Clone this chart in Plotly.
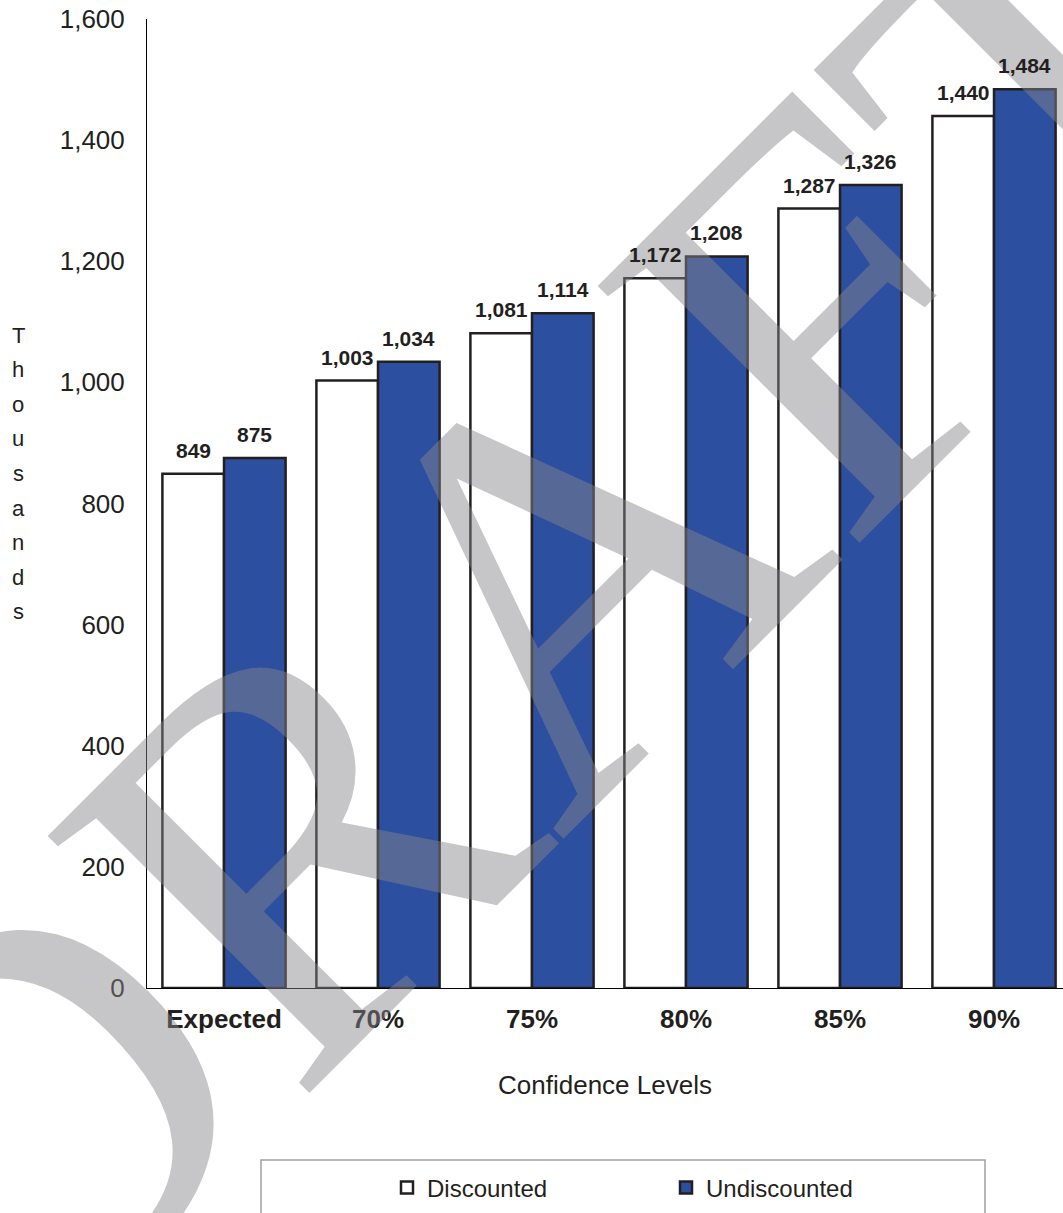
import plotly.graph_objects as go

# Confidence levels and projected costs (thousands)
categories = ["Expected", "70%", "75%", "80%", "85%", "90%"]
discounted = [849, 1003, 1081, 1172, 1287, 1440]
undiscounted = [875, 1034, 1114, 1208, 1326, 1484]
y_ticks = [0, 200, 400, 600, 800, 1000, 1200, 1400, 1600]
y_title = "Thousands"
x_title = "Confidence Levels"
watermark = "DRAFT"

W, H = 1063, 1213
ML, MR, MT, MB = 147, 0, 19, 225
PW, PH = W - ML - MR, H - MT - MB
X_RANGE = [-0.5, 5.448]
BARGAP = 0.2

def px_x(p):
    return (p - ML) / PW

def px_y(p):
    return (H - MB - p) / PH

INK = "#231f20"
BLUE = "#2c4fa0"
SANS = "Liberation Sans, Arial, sans-serif"

fig = go.Figure()
series = [("Discounted", discounted, "white"), ("Undiscounted", undiscounted, BLUE)]
for name, vals, fill in series:
    fig.add_trace(go.Bar(
        name=name, x=categories, y=vals,
        marker=dict(color=fill, line=dict(color=INK, width=2.5)),
    ))

# stacked vertical axis title
for i, ch in enumerate(y_title):
    fig.add_annotation(
        text=ch, xref="paper", yref="paper",
        x=px_x(18), y=px_y(335 + i * 34.6),
        showarrow=False, xanchor="center", yanchor="middle",
        font=dict(family=SANS, size=22, color=INK),
    )

# legend frame
fig.add_shape(
    type="rect", xref="paper", yref="paper",
    x0=px_x(261), x1=px_x(985), y0=px_y(1260), y1=px_y(1160),
    line=dict(color="#a0a0a0", width=1.5), fillcolor="rgba(0,0,0,0)",
    layer="below",
)

# diagonal watermark over the bars
fig.add_annotation(
    text=watermark, xref="paper", yref="paper",
    x=px_x(525), y=px_y(610), showarrow=False,
    xanchor="center", yanchor="middle", textangle=-45,
    font=dict(family="Liberation Serif, Times New Roman, serif", size=560,
              color="rgba(133,134,138,0.47)"),
)

# value labels above each bar, drawn after the watermark so they stay on top
cat_px = PW / (X_RANGE[1] - X_RANGE[0])
bar_px = cat_px * (1 - BARGAP) / len(series)
for k, (name, vals, _) in enumerate(series):
    offset = (k - (len(series) - 1) / 2) * bar_px
    for cat, v in zip(categories, vals):
        fig.add_annotation(
            text=f"{v:,}", x=cat, y=v, xref="x", yref="y",
            xshift=offset, yshift=10, showarrow=False,
            xanchor="center", yanchor="bottom",
            font=dict(family=SANS, size=21, color=INK, weight="bold"),
        )

fig.update_layout(
    width=W, height=H,
    margin=dict(l=ML, r=MR, t=MT, b=MB, pad=0),
    paper_bgcolor="white", plot_bgcolor="white",
    barmode="group", bargap=BARGAP, bargroupgap=0,
    showlegend=True,
    legend=dict(
        orientation="h", x=px_x(387), y=px_y(1188),
        xanchor="left", yanchor="middle",
        bgcolor="rgba(0,0,0,0)", borderwidth=0,
        entrywidth=234, entrywidthmode="pixels",
        font=dict(family=SANS, size=24, color=INK),
    ),
    xaxis=dict(
        type="category", range=X_RANGE,
        showline=True, linecolor="black", linewidth=1,
        ticks="", showgrid=False, ticklabelstandoff=8,
        tickfont=dict(family=SANS, size=26, color=INK, weight="bold"),
        title=dict(text=x_title, standoff=42,
                   font=dict(family=SANS, size=26, color=INK)),
    ),
    yaxis=dict(
        range=[0, 1600], tickvals=y_ticks, tickformat=",",
        showline=True, linecolor="black", linewidth=1,
        ticks="", showgrid=False, zeroline=False, ticklabelstandoff=16,
        tickfont=dict(family=SANS, size=26, color=INK),
    ),
)

fig.write_html("out.html")
